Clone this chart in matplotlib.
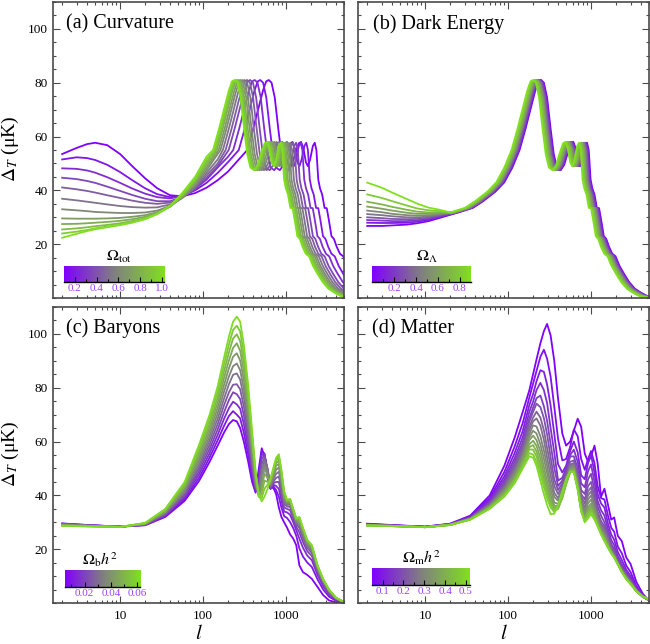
"""Four-panel CMB temperature spectra: curvature, dark energy, baryons, matter."""
import matplotlib
matplotlib.use("Agg")
import matplotlib.pyplot as plt
import numpy as np
from matplotlib.colors import LinearSegmentedColormap
from matplotlib.ticker import LogLocator, MultipleLocator, NullFormatter

plt.rcParams["font.family"] = ["Liberation Serif", "DejaVu Serif"]
plt.rcParams["mathtext.fontset"] = "stix"

CMAP = LinearSegmentedColormap.from_list("pg", ["#8000ff", "#808080", "#80e020"])

# shared acoustic-peak profile (l / l_peak, Delta_T) used by the shifted families (a), (b)
TEMPLATE_R = [0.10, 0.15, 0.20, 0.28, 0.36, 0.45, 0.55, 0.65, 0.75, 0.85, 0.93, 1.00,
              1.08, 1.18, 1.30, 1.42, 1.55, 1.72, 1.90, 2.10, 2.30, 2.45, 2.62, 2.80,
              2.96, 3.15, 3.40, 3.58, 3.75, 3.95, 4.15, 4.40, 4.70, 5.00, 5.30, 5.70,
              6.10, 6.60, 7.20, 7.90, 8.80, 10.0, 11.5, 13.5, 16.0, 19.0, 23.0]
TEMPLATE_V = [31.8, 33.5, 36.0, 39.5, 43.0, 48.5, 55.0, 63.0, 70.5, 77.0, 80.5, 81.0,
              80.0, 74.5, 63.0, 53.5, 48.5, 47.5, 49.5, 54.0, 57.5, 58.0, 55.5, 50.5,
              49.0, 51.5, 56.5, 57.7, 55.0, 44.0, 40.7, 38.5, 33.5, 33.4, 29.0, 23.0,
              22.0, 19.0, 16.5, 15.5, 12.0, 9.0, 6.0, 3.5, 2.0, 0.8, 0.3]

# (a) curvature
A_OMEGA = [0.1, 0.18, 0.26, 0.35, 0.43, 0.51, 0.59, 0.67, 0.76, 0.84, 0.92, 1.0]
A_PEAK_L = [620, 490, 420, 370, 340, 315, 295, 280, 266, 256, 248, 240]
A_LOW_L = [2, 3, 4, 5, 7, 10, 14, 20, 28, 40, 56, 80, 110, 150, 200]
A_LOW_V = [
    [53.5, 55.8, 57.2, 57.7, 56.8, 53.5, 49.0, 44.5, 40.8, 38.2, 37.8, 39.0, 41.0, 43.8, 47.0],
    [51.5, 52.3, 52.0, 51.3, 49.5, 46.8, 43.8, 40.8, 38.6, 37.5, 38.0, 40.0, 42.8, 46.5, 50.5],
    [48.2, 48.0, 47.4, 46.6, 44.9, 42.8, 40.7, 38.8, 37.5, 37.0, 38.0, 40.5, 44.0, 48.5, 52.5],
    [44.7, 44.2, 43.5, 42.8, 41.4, 39.8, 38.3, 36.9, 36.0, 36.0, 37.5, 40.5, 44.5, 49.0],
    [41.1, 40.4, 39.8, 39.2, 38.2, 37.2, 36.2, 35.4, 35.0, 35.5, 37.2, 40.8, 45.5, 50.0],
    [36.9, 36.3, 35.8, 35.4, 34.8, 34.2, 33.8, 33.6, 33.7, 34.8, 37.2, 41.2, 46.5, 51.5],
    [33.0, 32.6, 32.3, 32.0, 31.8, 31.6, 31.6, 31.8, 32.5, 34.2, 37.2, 41.8, 47.5],
    [29.6, 29.5, 29.5, 29.5, 29.6, 29.8, 30.2, 30.8, 31.9, 34.0, 37.5, 42.5, 48.5],
    [27.5, 27.6, 27.8, 28.0, 28.3, 28.7, 29.3, 30.2, 31.6, 34.0, 37.8, 43.0, 49.5],
    [25.5, 25.9, 26.3, 26.7, 27.2, 27.8, 28.6, 29.7, 31.4, 34.0, 38.0, 43.5, 50.5],
    [24.0, 24.7, 25.3, 25.9, 26.6, 27.3, 28.2, 29.4, 31.2, 34.0, 38.3, 44.2, 51.5],
    [22.4, 23.9, 24.9, 25.6, 26.3, 27.1, 28.0, 29.3, 31.3, 34.3, 39.0, 45.0, 52.5],
]
A_TEMPLATE_FROM = 0.55

# (b) dark energy
B_OMEGA_L = [0.0, 0.1, 0.2, 0.3, 0.4, 0.5, 0.6, 0.7, 0.8, 0.9]
B_PEAK_L = [250, 245, 240, 235, 230, 225, 220, 214, 207, 200]
B_LOW_L = [2, 3, 4, 6, 8, 11, 15]
B_LOW_V = [
    [26.8, 26.8, 27.0, 27.3, 27.8, 28.6, 29.8],
    [28.0, 27.9, 27.9, 28.0, 28.4, 29.1, 30.1],
    [29.0, 28.8, 28.6, 28.6, 28.9, 29.5, 30.4],
    [30.0, 29.7, 29.4, 29.3, 29.4, 29.9, 30.7],
    [31.2, 30.8, 30.4, 30.0, 30.0, 30.3, 31.0],
    [32.5, 31.9, 31.3, 30.8, 30.6, 30.8, 31.3],
    [34.0, 33.2, 32.5, 31.7, 31.3, 31.3, 31.6],
    [35.8, 34.8, 33.9, 32.8, 32.1, 31.8, 31.9],
    [38.5, 37.2, 36.0, 34.4, 33.3, 32.6, 32.3],
    [42.9, 41.0, 39.2, 36.8, 35.1, 33.6, 32.8],
]
B_TEMPLATE_FROM = 0.10

# (c) baryons
C_OMBH2 = [0.005, 0.01, 0.015, 0.02, 0.025, 0.03, 0.035, 0.04, 0.045, 0.05, 0.055, 0.06]
C_L = [2, 4, 10, 20, 35, 60, 90, 120, 150, 180, 205, 230, 255, 280, 310, 350, 390, 430,
       470, 510, 550, 600, 650, 700, 760, 820, 880, 950, 1030, 1120, 1220, 1330, 1450,
       1600, 1800, 2050, 2400, 2800, 3300, 4000, 5000]
C_V = [
    [29.6, 29.0, 28.4, 28.9, 32.0, 38.0, 45.5, 52.5, 58.5, 63.5, 66.5, 68.0, 67.5, 65.0, 60.0, 52.5, 45.0, 41.0, 50.0, 57.5, 54.5, 46.5, 42.5, 43.0, 40.5, 35.5, 32.0, 30.0, 28.0, 25.5, 24.0, 21.5, 14.0, 11.5, 10.5, 9.0, 6.0, 3.0, 1.0, 0.3, 0.0],
    [29.5, 29.0, 28.4, 29.0, 32.3, 38.6, 46.7, 54.1, 60.5, 66.0, 69.5, 71.3, 70.0, 68.6, 63.3, 55.1, 46.7, 41.5, 47.5, 56.5, 55.5, 48.0, 42.5, 43.5, 42.0, 39.5, 35.5, 32.3, 31.6, 30.1, 27.9, 25.0, 20.3, 17.3, 15.1, 13.4, 8.8, 5.1, 2.4, 0.9, 0.1],
    [29.4, 28.9, 28.4, 29.1, 32.5, 39.3, 48.0, 55.7, 62.5, 68.6, 72.4, 74.8, 73.8, 72.2, 66.5, 57.7, 48.5, 42.0, 45.5, 55.0, 55.5, 49.0, 42.5, 44.0, 43.5, 42.4, 38.1, 34.0, 33.7, 32.8, 30.1, 27.0, 23.9, 20.6, 17.7, 15.9, 10.4, 6.3, 3.2, 1.2, 0.2],
    [29.4, 28.9, 28.4, 29.1, 32.8, 39.9, 49.2, 57.3, 64.5, 71.1, 75.4, 78.3, 77.6, 75.8, 69.8, 60.3, 50.2, 42.5, 43.5, 53.5, 55.0, 49.5, 42.5, 44.5, 45.0, 45.0, 40.4, 35.5, 35.0, 34.5, 31.5, 28.3, 26.2, 22.7, 19.3, 17.5, 11.4, 7.1, 3.7, 1.5, 0.3],
    [29.3, 28.8, 28.4, 29.2, 33.1, 40.5, 50.4, 58.9, 66.5, 73.7, 78.3, 81.1, 81.3, 79.4, 73.1, 62.9, 51.9, 43.0, 42.0, 51.5, 54.0, 50.0, 43.0, 45.0, 46.5, 47.0, 42.2, 36.7, 35.9, 35.7, 32.5, 29.2, 27.9, 24.2, 20.5, 18.6, 12.2, 7.6, 4.1, 1.6, 0.3],
    [29.2, 28.8, 28.4, 29.3, 33.4, 41.2, 51.6, 60.5, 68.5, 76.2, 81.3, 84.8, 85.3, 83.0, 76.4, 65.5, 53.6, 43.5, 41.0, 49.5, 53.0, 49.5, 43.5, 46.0, 48.0, 48.8, 43.7, 37.7, 36.5, 36.5, 33.1, 29.8, 28.9, 25.2, 21.3, 19.4, 12.6, 8.0, 4.3, 1.7, 0.3],
    [29.1, 28.7, 28.3, 29.4, 33.6, 41.8, 52.9, 62.0, 70.5, 78.8, 84.2, 88.0, 89.0, 86.5, 79.6, 68.0, 55.4, 44.5, 40.2, 47.0, 51.5, 48.5, 44.0, 47.0, 49.5, 50.4, 45.1, 38.6, 37.1, 37.1, 33.7, 30.3, 29.8, 26.0, 21.9, 20.0, 13.0, 8.3, 4.5, 1.8, 0.4],
    [29.0, 28.7, 28.3, 29.5, 33.9, 42.5, 54.1, 63.6, 72.5, 81.3, 87.2, 91.5, 92.8, 90.1, 82.9, 70.6, 57.1, 45.5, 39.8, 44.5, 50.0, 47.5, 44.5, 47.5, 51.0, 51.7, 46.4, 39.4, 37.5, 37.6, 34.1, 30.7, 30.6, 26.7, 22.5, 20.5, 13.4, 8.5, 4.7, 1.9, 0.4],
    [28.9, 28.6, 28.3, 29.6, 34.2, 43.1, 55.3, 65.2, 74.5, 83.9, 90.1, 94.8, 96.5, 93.7, 86.2, 73.2, 58.8, 46.5, 39.5, 42.5, 48.0, 46.5, 45.0, 48.5, 52.0, 52.9, 47.4, 40.1, 37.8, 38.0, 34.5, 31.0, 31.1, 27.2, 22.9, 20.9, 13.6, 8.7, 4.8, 1.9, 0.4],
    [28.8, 28.6, 28.3, 29.6, 34.5, 43.7, 56.5, 66.8, 76.5, 86.4, 93.1, 98.3, 99.8, 97.3, 89.5, 75.8, 60.5, 47.5, 39.5, 40.5, 45.5, 45.0, 45.5, 49.0, 53.0, 53.9, 48.3, 40.7, 38.0, 38.3, 34.7, 31.2, 31.5, 27.5, 23.1, 21.1, 13.8, 8.8, 4.9, 2.0, 0.4],
    [28.8, 28.5, 28.3, 29.7, 34.7, 44.4, 57.8, 68.4, 78.5, 89.0, 96.0, 101.5, 103.0, 100.9, 92.7, 78.4, 62.3, 48.2, 40.0, 39.0, 42.5, 44.0, 46.0, 49.5, 53.5, 54.7, 49.0, 41.2, 38.2, 38.6, 34.9, 31.4, 31.8, 27.8, 23.4, 21.4, 13.9, 8.9, 5.0, 2.0, 0.4],
    [28.7, 28.5, 28.3, 29.8, 35.0, 45.0, 59.0, 70.0, 80.5, 91.5, 99.0, 104.5, 106.4, 104.5, 96.0, 81.0, 64.0, 49.0, 40.0, 37.8, 39.5, 42.5, 46.0, 50.0, 54.0, 55.3, 49.5, 41.5, 38.3, 38.7, 35.0, 31.5, 32.0, 28.0, 23.5, 21.5, 14.0, 9.0, 5.0, 2.0, 0.4],
]

# (d) matter
D_OMMH2 = [0.05, 0.08, 0.11, 0.14, 0.17, 0.20, 0.23, 0.26, 0.29, 0.32, 0.35, 0.38,
           0.41, 0.44, 0.47, 0.50]
D_L = [2, 4, 10, 20, 35, 60, 90, 120, 150, 180, 200, 220, 245, 270, 295, 325, 360, 400,
       450, 500, 560, 620, 690, 760, 840, 920, 1000, 1100, 1200, 1320, 1450, 1600, 1750,
       1900, 2100, 2350, 2650, 3000, 3500, 4200, 5000]
D_V = [
    [29.5, 29.0, 28.4, 29.5, 32.5, 40.0, 51.0, 61.5, 71.0, 79.0, 85.0, 90.5, 96.5, 101.0, 103.7, 99.5, 90.0, 76.0, 63.0, 58.5, 60.0, 64.0, 68.5, 65.5, 55.5, 52.5, 54.5, 58.5, 52.0, 39.5, 42.5, 36.5, 31.0, 31.8, 25.0, 23.0, 17.0, 14.5, 8.0, 3.5, 0.8],
    [29.4, 28.9, 28.4, 29.4, 32.2, 39.0, 48.7, 58.2, 66.9, 76.3, 81.5, 86.2, 91.5, 94.1, 90.8, 84.2, 73.0, 61.0, 53.0, 53.5, 58.0, 64.5, 62.0, 53.5, 49.5, 53.5, 56.5, 52.0, 43.5, 39.0, 38.5, 32.5, 28.0, 26.5, 21.0, 18.5, 14.0, 11.5, 6.5, 3.0, 1.0],
    [29.3, 28.9, 28.3, 29.3, 32.0, 38.3, 47.1, 55.8, 63.9, 73.5, 77.6, 82.4, 86.5, 85.9, 81.2, 73.5, 62.9, 51.6, 48.5, 51.0, 56.5, 60.0, 56.0, 47.5, 46.0, 52.0, 55.0, 48.5, 40.5, 37.0, 35.5, 29.5, 25.5, 23.5, 19.0, 16.0, 12.5, 10.0, 6.0, 3.0, 1.0],
    [29.2, 28.8, 28.3, 29.3, 31.8, 37.8, 45.9, 53.9, 61.6, 71.0, 74.8, 79.1, 81.8, 79.1, 74.3, 65.1, 56.0, 45.5, 46.5, 50.0, 55.0, 57.0, 52.5, 44.5, 43.0, 49.0, 51.5, 45.0, 38.0, 34.5, 32.5, 27.5, 23.5, 21.5, 17.5, 14.5, 11.5, 9.0, 5.5, 2.8, 1.0],
    [29.1, 28.8, 28.3, 29.2, 31.7, 37.3, 44.9, 52.5, 59.8, 68.7, 72.6, 76.1, 77.1, 73.1, 67.7, 59.2, 50.3, 43.5, 45.5, 49.0, 54.5, 54.5, 50.0, 42.0, 40.5, 46.0, 48.0, 42.0, 36.0, 32.5, 30.0, 26.0, 22.0, 20.0, 16.5, 13.5, 11.0, 8.5, 5.2, 2.7, 1.0],
    [29.1, 28.8, 28.3, 29.2, 31.6, 37.0, 44.1, 51.3, 58.4, 67.3, 71.0, 74.1, 72.8, 68.7, 62.7, 54.3, 46.0, 42.0, 44.5, 48.0, 52.5, 53.0, 48.0, 40.5, 38.5, 43.5, 45.0, 39.5, 34.0, 30.5, 28.5, 24.5, 21.0, 19.0, 15.5, 13.0, 10.5, 8.2, 5.0, 2.6, 1.0],
    [29.0, 28.7, 28.3, 29.2, 31.5, 36.7, 43.4, 50.2, 57.1, 65.5, 68.9, 71.1, 68.9, 64.2, 57.7, 50.8, 43.5, 40.5, 43.5, 47.0, 51.5, 52.0, 47.0, 39.5, 37.0, 41.5, 43.0, 38.0, 33.0, 29.5, 27.5, 24.0, 20.5, 18.5, 15.3, 12.8, 10.3, 8.0, 4.9, 2.5, 1.0],
    [29.0, 28.7, 28.3, 29.1, 31.4, 36.4, 42.8, 49.4, 56.0, 64.2, 67.5, 68.6, 65.9, 60.6, 54.0, 47.5, 41.0, 39.0, 42.5, 46.5, 51.0, 51.5, 46.0, 38.5, 35.5, 40.0, 41.5, 37.0, 32.0, 28.5, 26.5, 23.2, 20.0, 18.0, 15.0, 12.5, 10.0, 7.8, 4.8, 2.4, 1.0],
    [29.0, 28.7, 28.2, 29.1, 31.4, 36.2, 42.2, 48.5, 55.0, 62.8, 66.0, 65.6, 62.0, 56.7, 50.9, 44.4, 39.5, 38.0, 41.5, 46.0, 50.5, 51.0, 45.0, 37.5, 34.0, 38.5, 40.0, 36.0, 31.3, 27.8, 25.8, 22.6, 19.5, 17.7, 14.8, 12.2, 9.8, 7.6, 4.7, 2.3, 1.0],
    [28.9, 28.7, 28.2, 29.1, 31.3, 36.0, 41.7, 47.8, 54.1, 61.6, 64.0, 63.0, 59.0, 53.6, 48.2, 42.4, 37.4, 36.8, 40.5, 45.5, 50.0, 50.5, 44.5, 36.5, 33.0, 37.0, 38.5, 35.0, 30.6, 27.2, 25.2, 22.1, 19.2, 17.5, 14.6, 12.0, 9.6, 7.5, 4.6, 2.3, 1.0],
    [28.9, 28.7, 28.2, 29.1, 31.2, 35.8, 41.3, 47.1, 53.3, 60.5, 62.2, 60.5, 56.4, 50.6, 45.4, 40.3, 36.2, 36.0, 40.0, 45.0, 49.5, 50.0, 44.0, 35.5, 32.0, 35.5, 37.0, 34.0, 30.0, 26.7, 24.6, 21.7, 18.9, 17.3, 14.5, 11.8, 9.4, 7.4, 4.6, 2.4, 1.1],
    [28.9, 28.6, 28.2, 29.1, 31.2, 35.6, 40.8, 46.5, 52.4, 59.0, 60.3, 58.4, 53.8, 48.3, 43.2, 38.7, 35.5, 35.5, 39.5, 44.5, 49.0, 49.5, 43.5, 35.0, 31.5, 34.5, 36.0, 33.0, 29.5, 26.4, 24.2, 21.3, 18.8, 17.2, 14.5, 11.7, 9.3, 7.3, 4.5, 2.4, 1.2],
    [28.9, 28.6, 28.2, 29.0, 31.1, 35.4, 40.5, 45.9, 51.8, 57.9, 58.7, 56.3, 51.4, 46.2, 41.6, 37.5, 34.8, 35.2, 39.3, 44.3, 48.8, 49.3, 43.2, 34.7, 31.0, 33.8, 35.3, 32.5, 29.2, 26.1, 23.8, 21.1, 18.7, 17.1, 14.5, 11.6, 9.2, 7.2, 4.5, 2.4, 1.3],
    [28.8, 28.6, 28.2, 29.0, 31.1, 35.3, 40.2, 45.5, 51.2, 57.1, 57.0, 54.5, 49.8, 44.8, 40.3, 36.5, 34.2, 35.0, 39.0, 44.0, 48.5, 49.0, 42.8, 34.4, 30.6, 33.2, 34.5, 32.0, 28.9, 25.9, 23.5, 20.9, 18.6, 17.0, 14.5, 11.5, 9.1, 7.1, 4.5, 2.4, 1.4],
    [28.8, 28.6, 28.2, 29.0, 31.0, 35.1, 39.8, 45.0, 50.6, 55.7, 55.2, 52.6, 47.9, 43.1, 38.9, 35.6, 33.8, 36.0, 40.5, 45.2, 48.8, 48.7, 42.4, 34.2, 30.3, 32.4, 33.8, 31.5, 28.7, 25.7, 23.2, 20.7, 18.5, 17.0, 14.5, 11.5, 9.0, 7.0, 4.5, 2.4, 1.4],
    [28.8, 28.6, 28.2, 29.0, 31.0, 35.0, 39.5, 44.5, 50.0, 54.5, 54.0, 51.0, 45.5, 40.5, 36.5, 33.0, 33.2, 36.5, 41.5, 46.0, 49.0, 48.5, 42.0, 34.0, 30.0, 31.5, 33.0, 31.0, 28.5, 25.5, 23.0, 20.5, 18.5, 17.0, 14.5, 11.5, 9.0, 7.0, 4.5, 2.5, 1.5],
]

XLIM = (1.55, 5000)
YLIM = (0, 110)
SPINE_COLOR = "#4a4a4a"
CBAR_TEXT = "#a040ff"


def shifted_curves(low_l, low_v, peaks, r_from):
    curves = []
    r = np.asarray(TEMPLATE_R)
    v = np.asarray(TEMPLATE_V)
    keep = r >= r_from
    for vals, peak in zip(low_v, peaks):
        ll = np.concatenate([low_l[:len(vals)], r[keep] * peak])
        vv = np.concatenate([vals, v[keep]])
        curves.append((ll, vv))
    return curves


def style_axes(ax, show_x, show_y):
    ax.set_xscale("log")
    ax.set_xlim(*XLIM)
    ax.set_ylim(*YLIM)
    ax.set_xticks([10, 100, 1000])
    ax.set_xticklabels(["10", "100", "1000"])
    ax.xaxis.set_minor_locator(LogLocator(base=10, subs=np.arange(2, 10)))
    ax.xaxis.set_minor_formatter(NullFormatter())
    ax.set_yticks([20, 40, 60, 80, 100])
    ax.yaxis.set_minor_locator(MultipleLocator(5))
    ax.tick_params(which="both", direction="in", top=True, right=True,
                   color=SPINE_COLOR, labelsize=9.5, width=0.8)
    ax.tick_params(which="major", length=5)
    ax.tick_params(which="minor", length=2.5)
    ax.tick_params(axis="x", pad=5)
    ax.tick_params(labelbottom=show_x, labelleft=show_y)
    for s in ax.spines.values():
        s.set_color(SPINE_COLOR)
        s.set_linewidth(1.2)
    if show_y:
        ax.set_ylabel(r"$\Delta_T$ (μK)", fontsize=14)
        ax.yaxis.set_label_coords(-0.11, 0.505)
    if show_x:
        ax.set_xlabel(r"$l$", fontsize=15, labelpad=2)


def add_cbar(ax, rect, vmin, vmax, ticks, labels, minor, title, title_dx=0.0):
    cax = ax.inset_axes(rect)
    grad = np.linspace(0.0, 1.0, 256)[None, :]
    cax.imshow(grad, aspect="auto", cmap=CMAP, extent=(vmin, vmax, 0, 1))
    cax.set_xlim(vmin, vmax)
    cax.set_ylim(0, 1)
    cax.set_yticks([])
    cax.set_xticks(ticks)
    cax.set_xticklabels(labels)
    cax.set_xticks(minor, minor=True)
    cax.tick_params(axis="x", which="both", direction="in", color="black",
                    labelcolor=CBAR_TEXT, labelsize=8, pad=1.5, width=0.8)
    cax.tick_params(axis="x", which="major", length=3.5)
    cax.tick_params(axis="x", which="minor", length=2)
    for s in ("top", "left", "right"):
        cax.spines[s].set_visible(False)
    cax.spines["bottom"].set_color("black")
    cax.spines["bottom"].set_linewidth(1.0)
    cax.text(0.5 + title_dx, 1.08, title, transform=cax.transAxes,
             ha="center", va="bottom", fontsize=11.5)


def draw_family(ax, curves, params, vmin, vmax):
    for (ll, vv), p in zip(curves, params):
        ax.plot(ll, vv, color=CMAP((p - vmin) / (vmax - vmin)), lw=1.3,
                solid_joinstyle="round")


def main():
    fig = plt.figure(figsize=(6.5, 6.44), dpi=100)
    w, h = 0.4477, 0.4599
    ax_a = fig.add_axes([0.0815, 0.5371, w, h])
    ax_b = fig.add_axes([0.5508, 0.5371, w, h])
    ax_c = fig.add_axes([0.0815, 0.0635, w, h])
    ax_d = fig.add_axes([0.5508, 0.0635, w, h])

    # (a)
    curves = shifted_curves(A_LOW_L, A_LOW_V, A_PEAK_L, A_TEMPLATE_FROM)
    draw_family(ax_a, curves, A_OMEGA, 0.1, 1.0)
    style_axes(ax_a, False, True)
    ax_a.text(0.045, 0.925, "(a) Curvature", transform=ax_a.transAxes,
              fontsize=14.5, va="center")
    add_cbar(ax_a, [0.038, 0.055, 0.344, 0.053], 0.1, 1.02,
             [0.2, 0.4, 0.6, 0.8, 1.0], ["0.2", "0.4", "0.6", "0.8", "1.0"],
             [0.3, 0.5, 0.7, 0.9], r"$\Omega_{\rm tot}$", 0.05)

    # (b)
    curves = shifted_curves(B_LOW_L, B_LOW_V, B_PEAK_L, B_TEMPLATE_FROM)
    draw_family(ax_b, curves, B_OMEGA_L, 0.0, 0.9)
    style_axes(ax_b, False, False)
    ax_b.text(0.053, 0.925, "(b) Dark Energy", transform=ax_b.transAxes,
              fontsize=14.5, va="center")
    add_cbar(ax_b, [0.049, 0.055, 0.339, 0.053], 0.0, 0.9,
             [0.2, 0.4, 0.6, 0.8], ["0.2", "0.4", "0.6", "0.8"],
             [0.1, 0.3, 0.5, 0.7], r"$\Omega_\Lambda$", 0.05)

    # (c)
    curves = [(np.asarray(C_L), np.asarray(v)) for v in C_V]
    draw_family(ax_c, curves, C_OMBH2, 0.005, 0.062)
    style_axes(ax_c, True, True)
    ax_c.text(0.045, 0.927, "(c) Baryons", transform=ax_c.transAxes,
              fontsize=14.5, va="center")
    add_cbar(ax_c, [0.041, 0.055, 0.258, 0.056], 0.005, 0.062,
             [0.02, 0.04, 0.06], ["0.02", "0.04", "0.06"],
             [0.01, 0.03, 0.05], r"$\Omega_{\rm b}h^2$", -0.04)

    # (d)
    curves = [(np.asarray(D_L), np.asarray(v)) for v in D_V]
    draw_family(ax_d, curves, D_OMMH2, 0.05, 0.52)
    style_axes(ax_d, True, False)
    ax_d.text(0.047, 0.927, "(d) Matter", transform=ax_d.transAxes,
              fontsize=14.5, va="center")
    add_cbar(ax_d, [0.049, 0.061, 0.336, 0.057], 0.05, 0.52,
             [0.1, 0.2, 0.3, 0.4, 0.5], ["0.1", "0.2", "0.3", "0.4", "0.5"],
             [0.15, 0.25, 0.35, 0.45], r"$\Omega_{\rm m}h^2$", 0.0)

    fig.savefig("out.png", dpi=100)
    plt.close(fig)


if __name__ == "__main__":
    main()
